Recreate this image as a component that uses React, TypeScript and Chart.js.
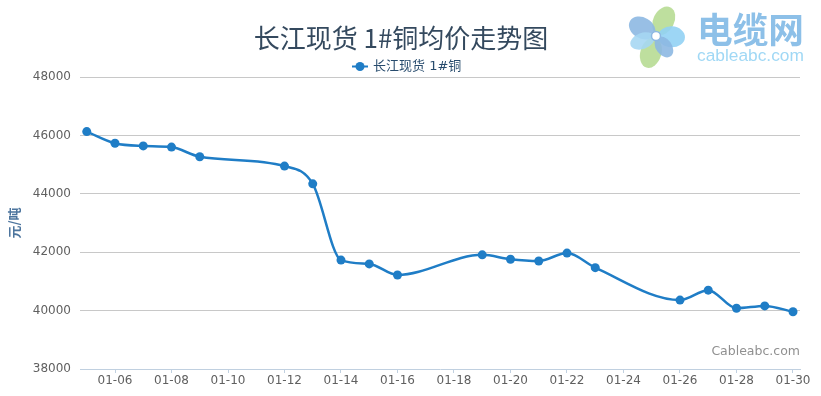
import React, { useEffect, useRef } from "react";
import { Chart, registerables } from "chart.js";

Chart.register(...registerables);

const chartTitle = "长江现货 1#铜均价走势图";
const seriesName = "长江现货 1#铜";
const yAxisTitle = "元/吨";
const dateLabels = ["01-05", "01-06", "01-07", "01-08", "01-09", "01-12", "01-13", "01-14", "01-15", "01-16", "01-19", "01-20", "01-21", "01-22", "01-23", "01-26", "01-27", "01-28", "01-29", "01-30"];
const prices = [46130, 45730, 45640, 45600, 45270, 44950, 44340, 41730, 41600, 41220, 41910, 41760, 41700, 41970, 41470, 40360, 40700, 40080, 40160, 39960];
const xTickLabels = ["01-06", "01-08", "01-10", "01-12", "01-14", "01-16", "01-18", "01-20", "01-22", "01-24", "01-26", "01-28", "01-30"];
const yTicks = [38000, 40000, 42000, 44000, 46000, 48000];

const dayOf = (s: string) => parseInt(s.slice(3), 10);

const LINE_COLOR = "#1f7dc6";

const decorPlugin = {
  id: "decor",
  afterDraw(chart: any) {
    const ctx = chart.ctx as CanvasRenderingContext2D;
    ctx.save();
    // Title
    ctx.fillStyle = "#34495e";
    ctx.font = "26px 'Noto Sans CJK SC', 'DejaVu Sans', sans-serif";
    ctx.textAlign = "center";
    ctx.textBaseline = "middle";
    ctx.fillText(chartTitle, 401, 38);

    // Legend
    ctx.strokeStyle = LINE_COLOR;
    ctx.lineWidth = 2;
    ctx.beginPath();
    ctx.moveTo(352, 66.5);
    ctx.lineTo(368, 66.5);
    ctx.stroke();
    ctx.fillStyle = LINE_COLOR;
    ctx.beginPath();
    ctx.arc(360, 66.5, 4.5, 0, Math.PI * 2);
    ctx.fill();
    ctx.fillStyle = "#274b6d";
    ctx.font = "13px 'DejaVu Sans', 'Noto Sans CJK SC', sans-serif";
    ctx.textAlign = "left";
    ctx.fillText(seriesName, 373, 67);

    // Watermark logo
    const cx = 656, cy = 36;
    const petals: [number, number, number, string][] = [
      [-63, 30, 21, "#b7dc94"],
      [-150, 28, 21, "#8db8e2"],
      [3, 27, 21, "#92d2f4"],
      [107, 31, 21, "#b7dc94"],
      [160, 25, 16, "#a6d7f3"],
      [54, 23, 16, "#8db8e2"],
    ];
    ctx.globalAlpha = 0.9;
    for (const [ang, len, wid, col] of petals) {
      const a = (ang * Math.PI) / 180;
      const d = len / 2 + 2;
      ctx.fillStyle = col;
      ctx.beginPath();
      ctx.ellipse(cx + Math.cos(a) * d, cy + Math.sin(a) * d, len / 2, wid / 2, a, 0, Math.PI * 2);
      ctx.fill();
    }
    ctx.globalAlpha = 1;
    ctx.fillStyle = "#ffffff";
    ctx.beginPath();
    ctx.arc(cx, cy, 4.5, 0, Math.PI * 2);
    ctx.fill();
    ctx.strokeStyle = "#8db8e2";
    ctx.lineWidth = 1.5;
    ctx.stroke();

    ctx.textAlign = "left";
    ctx.textBaseline = "alphabetic";
    ctx.fillStyle = "#8dc0e8";
    ctx.font = "bold 34px 'Noto Sans CJK SC', sans-serif";
    let w = ctx.measureText("电缆网").width;
    const s1 = Math.min(40, (34 * 107) / w);
    ctx.font = `bold ${s1}px 'Noto Sans CJK SC', sans-serif`;
    ctx.fillText("电缆网", 697, 43);
    ctx.fillStyle = "#a0d8f5";
    ctx.font = "18px 'Liberation Sans', sans-serif";
    w = ctx.measureText("cableabc.com").width;
    const s2 = (18 * 107) / w;
    ctx.font = `${s2}px 'Liberation Sans', sans-serif`;
    ctx.fillText("cableabc.com", 697, 61);

    // Credits
    ctx.fillStyle = "#909090";
    ctx.font = "12.5px 'DejaVu Sans', sans-serif";
    ctx.textAlign = "right";
    ctx.textBaseline = "middle";
    ctx.fillText("Cableabc.com", 800, 352);

    // Y axis title
    ctx.save();
    ctx.translate(14, 223);
    ctx.rotate(-Math.PI / 2);
    ctx.fillStyle = "#4d759e";
    ctx.font = "bold 13px 'Noto Sans CJK SC', 'DejaVu Sans', sans-serif";
    ctx.textAlign = "center";
    ctx.textBaseline = "middle";
    ctx.fillText(yAxisTitle, 0, 0);
    ctx.restore();

    ctx.restore();
  },
};

export default function App() {
  const ref = useRef<HTMLCanvasElement | null>(null);
  useEffect(() => {
    if (!ref.current) return;
    const chart = new Chart(ref.current, {
      type: "line",
      data: {
        datasets: [
          {
            label: seriesName,
            data: dateLabels.map((d, i) => ({ x: dayOf(d), y: prices[i] })),
            borderColor: LINE_COLOR,
            backgroundColor: LINE_COLOR,
            borderWidth: 2.5,
            pointRadius: 4.5,
            pointBorderWidth: 0,
            pointBackgroundColor: LINE_COLOR,
            cubicInterpolationMode: "monotone",
            fill: false,
          },
        ],
      },
      options: {
        responsive: false,
        animation: false,
        layout: { padding: { top: 77, right: 21, bottom: 0, left: 0 } },
        plugins: {
          legend: { display: false },
          title: { display: false },
          tooltip: { enabled: false },
        },
        scales: {
          x: {
            type: "linear",
            min: 4.761,
            max: 30.248,
            afterBuildTicks: (axis: any) => {
              axis.ticks = xTickLabels.map((l) => ({ value: dayOf(l) }));
            },
            afterFit: (scale: any) => {
              scale.height = 27;
            },
            ticks: {
              autoSkip: false,
              maxRotation: 0,
              padding: 1,
              color: "#606060",
              font: { family: "'DejaVu Sans', sans-serif", size: 12 },
              callback: (v: any) => xTickLabels.find((l) => dayOf(l) === v) ?? "",
            },
            grid: {
              drawOnChartArea: false,
              drawTicks: true,
              tickLength: 4,
              color: "#c0d0e0",
            },
            border: { display: true, color: "#c0d0e0", width: 1 },
          },
          y: {
            min: yTicks[0],
            max: yTicks[yTicks.length - 1],
            afterBuildTicks: (axis: any) => {
              axis.ticks = yTicks.map((v) => ({ value: v }));
            },
            afterFit: (scale: any) => {
              scale.width = 80;
            },
            ticks: {
              padding: 9,
              color: "#606060",
              font: { family: "'DejaVu Sans', sans-serif", size: 12 },
              callback: (v: any) => String(v),
            },
            grid: {
              drawTicks: false,
              color: (c: any) => (c.tick && c.tick.value === yTicks[0] ? "rgba(0,0,0,0)" : "#c8c8c8"),
            },
            border: { display: false },
          },
        },
      },
      plugins: [decorPlugin],
    } as any);
    return () => chart.destroy();
  }, []);
  return (
    <div style={{ position: "absolute", left: 0, top: 0, width: 821, height: 396, background: "#fff" }}>
      <canvas ref={ref} width={821} height={396} />
    </div>
  );
}
